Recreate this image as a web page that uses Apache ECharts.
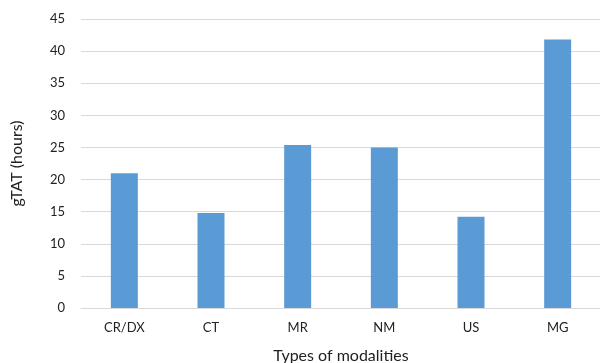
<!DOCTYPE html>
<html><head><meta charset="utf-8">
<script src="https://cdn.jsdelivr.net/npm/echarts@6/dist/echarts.min.js"></script>
<style>html,body{margin:0;padding:0;background:#fff}#c{width:600px;height:363px}</style>
</head><body><div id="c"></div>
<script>
const categories = ["CR/DX", "CT", "MR", "NM", "US", "MG"];
const gtatHours = [21.0, 14.8, 25.4, 25.0, 14.2, 41.8];
const yTicks = [0, 5, 10, 15, 20, 25, 30, 35, 40, 45];

const chart = echarts.init(document.getElementById('c'));
chart.setOption({
  animation: false,
  grid: {left: 81, right: -1, top: 19, bottom: 55, outerBoundsMode: 'none', containLabel: false},
  xAxis: {
    type: 'category', data: categories,
    name: 'Types of modalities', nameLocation: 'middle', nameGap: 40,
    nameTextStyle: {fontFamily: 'Lato', fontSize: 16, color: '#222'},
    axisLine: {lineStyle: {color: '#d9d9d9', width: 1}},
    axisTick: {show: false},
    axisLabel: {fontFamily: 'Lato', fontSize: 13, color: '#222', margin: 13}
  },
  yAxis: {
    type: 'value', min: yTicks[0], max: yTicks[yTicks.length - 1], interval: 5,
    name: 'gTAT (hours)', nameLocation: 'middle', nameGap: 56,
    nameTextStyle: {fontFamily: 'Lato', fontSize: 16, color: '#222'},
    axisLine: {show: false}, axisTick: {show: false},
    axisLabel: {fontFamily: 'Lato', fontSize: 13, color: '#222', margin: 16},
    splitLine: {lineStyle: {color: '#d9d9d9', width: 1}}
  },
  series: [{
    type: 'bar', data: gtatHours, barWidth: 27,
    itemStyle: {color: '#5b9bd5'}
  }]
});
</script></body></html>
